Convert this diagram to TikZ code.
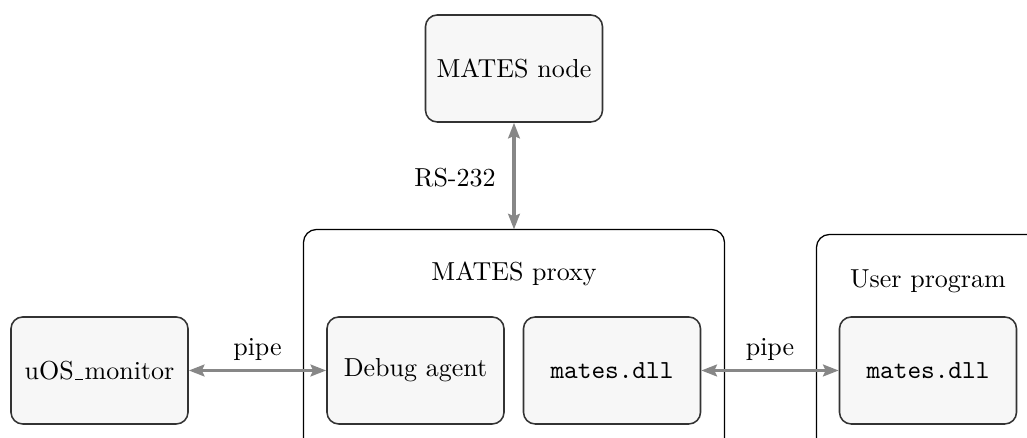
\documentclass[tikz,border=0pt]{standalone}
\usetikzlibrary{arrows.meta}
\newcommand{\lowbar}{\leavevmode\kern.06em\rule[-0.1pt]{0.3em}{0.4pt}\kern.06em}
\begin{document}
\begin{tikzpicture}[x=0.3846pt,y=-0.3846pt,
  box/.style={draw=black!80, line width=0.6pt, fill=black!3, rounded corners=4.5pt, align=center, inner sep=0pt,
    minimum width=177*0.3846pt, minimum height=107*0.3846pt},
  cont/.style={draw=none, inner sep=0pt},
  frame/.style={draw=black, line width=0.5pt, rounded corners=5pt},
  link/.style={draw=black!47, line width=1.5pt, {Stealth[length=6pt,width=4.5pt,inset=1pt]}-{Stealth[length=6pt,width=4.5pt,inset=1pt]}},
  lbl/.style={inner sep=0pt}]
\useasboundingbox (0,0) rectangle (1027,438);
\clip (0,0) rectangle (1027,438);
% containers
\node[cont, minimum width=420*0.3846pt, minimum height=220*0.3846pt] (proxy) at (514,340) {};
\node[cont, minimum width=222*0.3846pt, minimum height=215*0.3846pt] (user) at (928,342.5) {};
\draw[frame] (proxy.south west) -- (proxy.north west) -- (proxy.north east) -- (proxy.south east);
\draw[frame] (user.south west) -- (user.north west) -- (user.north east) -- (user.south east);
\node[lbl] (proxytitle) at (514,274) {MATES proxy};
\node[lbl] (usertitle) at (928,281) {User program};
% boxes
\node[box] (node) at (514,68.5) {MATES node};
\node[box] (uos) at (99.5,370.5) {uOS\lowbar monitor};
\node[box] (agent) at (415.5,370.5) {Debug agent};
\node[box] (pdll) at (612,370.5) {\texttt{mates.dll}};
\node[box] (udll) at (928,370.5) {\texttt{mates.dll}};
% connectors
\draw[link] (node.south) -- (proxy.north -| node.south);
\node[lbl] (rs) at (455,178) {RS-232};
\draw[link] (uos.east) -- (agent.west);
\node[lbl] (pipe1) at (257.5,349) {pipe};
\draw[link] (pdll.east) -- (udll.west);
\node[lbl] (pipe2) at (770,349) {pipe};
\end{tikzpicture}
\end{document}
